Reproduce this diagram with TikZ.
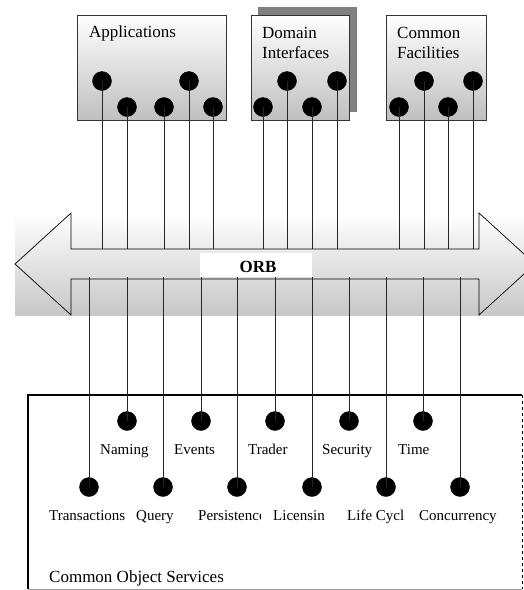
\documentclass[tikz,border=0pt]{standalone}
\usepackage{fontspec}
\setmainfont{Liberation Serif}
\begin{document}
\begin{tikzpicture}[x=1pt,y=-1pt,
  pin/.style={circle,fill=black,draw=black,inner sep=0pt,minimum size=19pt},
  facbox/.style={draw=black!80,line width=0.7pt,top color=white,bottom color=black!25},
  toplabel/.style={anchor=base west,font=\fontsize{17}{20}\selectfont,inner sep=0pt,align=left},
  svclabel/.style={anchor=base west,font=\fontsize{15}{18}\selectfont,inner sep=0pt},
  wire/.style={draw=black!85,line width=0.7pt}]
\useasboundingbox (0,0) rectangle (524,590);
\clip (0,0) rectangle (524,590);

% ---- facility boxes ----
\fill[black!50] (258,7) rectangle (357,112);
\path[facbox] (77,15) rectangle (226,120);
\path[facbox] (251,15) rectangle (349,120);
\path[facbox] (386,15) rectangle (486,120);
\node[toplabel] (app) at (89,37) {Applications};
\node[toplabel] (dom) at (262,38) {Domain};
\node[toplabel] (domb) at (262,58) {Interfaces};
\node[toplabel] (com) at (397,38) {Common};
\node[toplabel] (comb) at (397,58) {Facilities};

% ---- ORB arrow ----
\shade[top color=white,bottom color=black!22] (15,213) rectangle (524,315);
\draw[line width=0.7pt] (15,264) -- (71,213) -- (71,249) -- (479,249) -- (479,213)
   -- (535,264) -- (479,315) -- (479,279) -- (71,279) -- (71,315) -- cycle;
\coordinate (orbtop) at (0,249);
\coordinate (orbbot) at (0,277);

% ---- top pins ----
\foreach \n/\x/\y in {a1/102/81,a2/127/107,a3/164/107,a4/189/81,a5/213/107,
                      d1/263/107,d2/287/81,d3/312/107,d4/337/81,
                      c1/399/107,c2/424/81,c3/448/107,c4/473/81}{
  \node[pin] (\n) at (\x,\y) {};
  \draw[wire] (\n.center) -- (\n.center |- orbtop);
}

% ---- COS box ----
\draw[black!40,line width=0.6pt] (28,589) -- (522,589);
\draw[black,line width=0.8pt,dash pattern=on 3pt off 3pt] (522,395) -- (522,589);
\draw[black,line width=2pt] (28,589) -- (28,395) -- (522,395);

% ---- service pins ----
\foreach \n/\x/\y in {s1/89/487,s2/127/421,s3/163/487,s4/201/421,s5/237/487,s6/275/421,
                      s7/312/487,s8/349/421,s9/386/487,s10/423/421,s11/460/487}{
  \node[pin] (\n) at (\x,\y) {};
  \draw[wire] (\n.center) -- (\n.center |- orbbot);
}

% ORB label
\fill[white] (200,253) rectangle (312,277);
\node[anchor=base,font=\bfseries\fontsize{17}{20}\selectfont,inner sep=0pt] (orb) at (258,272) {ORB};

% ---- service labels ----
\node[svclabel] (naming) at (100,454) {Naming};
\node[svclabel] (events) at (174,454) {Events};
\node[svclabel] (trader) at (248,454) {Trader};
\node[svclabel] (security) at (322,454) {Security};
\node[svclabel] (time) at (398,454) {Time};
\node[svclabel] (trans) at (49,520) {Transactions};
\node[svclabel] (query) at (136,520) {Query};
\begin{scope}
  \clip (190,500) rectangle (260.5,530);
  \node[svclabel] (pers) at (198,520) {Persistence};
\end{scope}
\node[svclabel] (lic) at (273,520) {Licensin};
\begin{scope}
  \clip (340,500) rectangle (404,530);
  \node[svclabel] (life) at (347,520) {Life Cycle};
\end{scope}
\node[svclabel] (conc) at (419,520) {Concurrency};
\node[anchor=base west,font=\fontsize{17}{20}\selectfont,inner sep=0pt] (cos) at (49,582) {Common Object Services};
\end{tikzpicture}
\end{document}
